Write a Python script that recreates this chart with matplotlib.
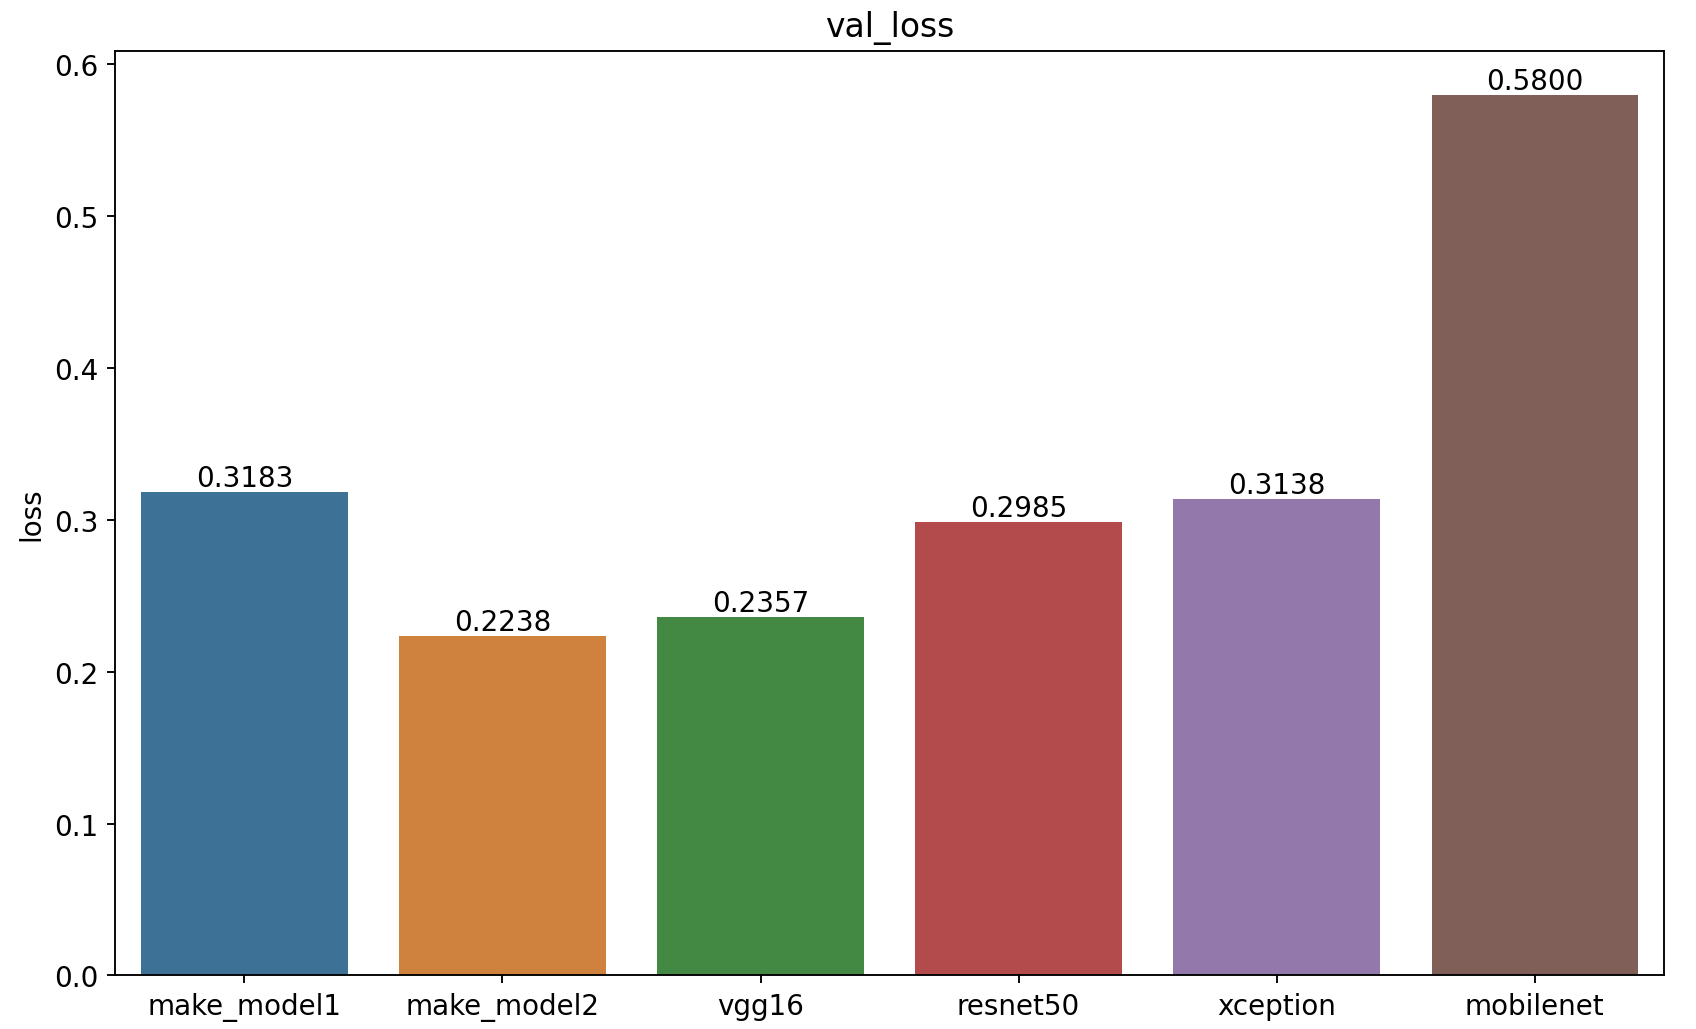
import numpy as np
import pandas as pd
import matplotlib
matplotlib.use("Agg")
import matplotlib.pyplot as plt
import seaborn as sns

models = ['make_model1', 'make_model2', 'vgg16', 'resnet50', 'xception', 'mobilenet']
val_loss = [0.3183, 0.2238, 0.2357, 0.2985, 0.3138, 0.5800]

df = pd.DataFrame({'model': models, 'loss': val_loss})
# reference colours: tab10, fairly desaturated
colors = [sns.desaturate(c, 0.6) for c in sns.color_palette('tab10', len(models))]

fig = plt.figure(figsize=(10, 6.073), dpi=169.6)
ax = fig.add_axes([0.068, 0.052, 0.913, 0.898])
sns.barplot(data=df, x='model', y='loss', hue='model', palette=colors,
            saturation=1, legend=False, ax=ax)
for c in ax.containers:
    ax.bar_label(c, fmt='%.4f', fontsize=11.8)
ax.set_title('val_loss', fontsize=14)
ax.set_xlabel('')
ax.set_ylabel('loss', fontsize=11.8)
ax.tick_params(labelsize=11.8)
fig.savefig('out.png')
